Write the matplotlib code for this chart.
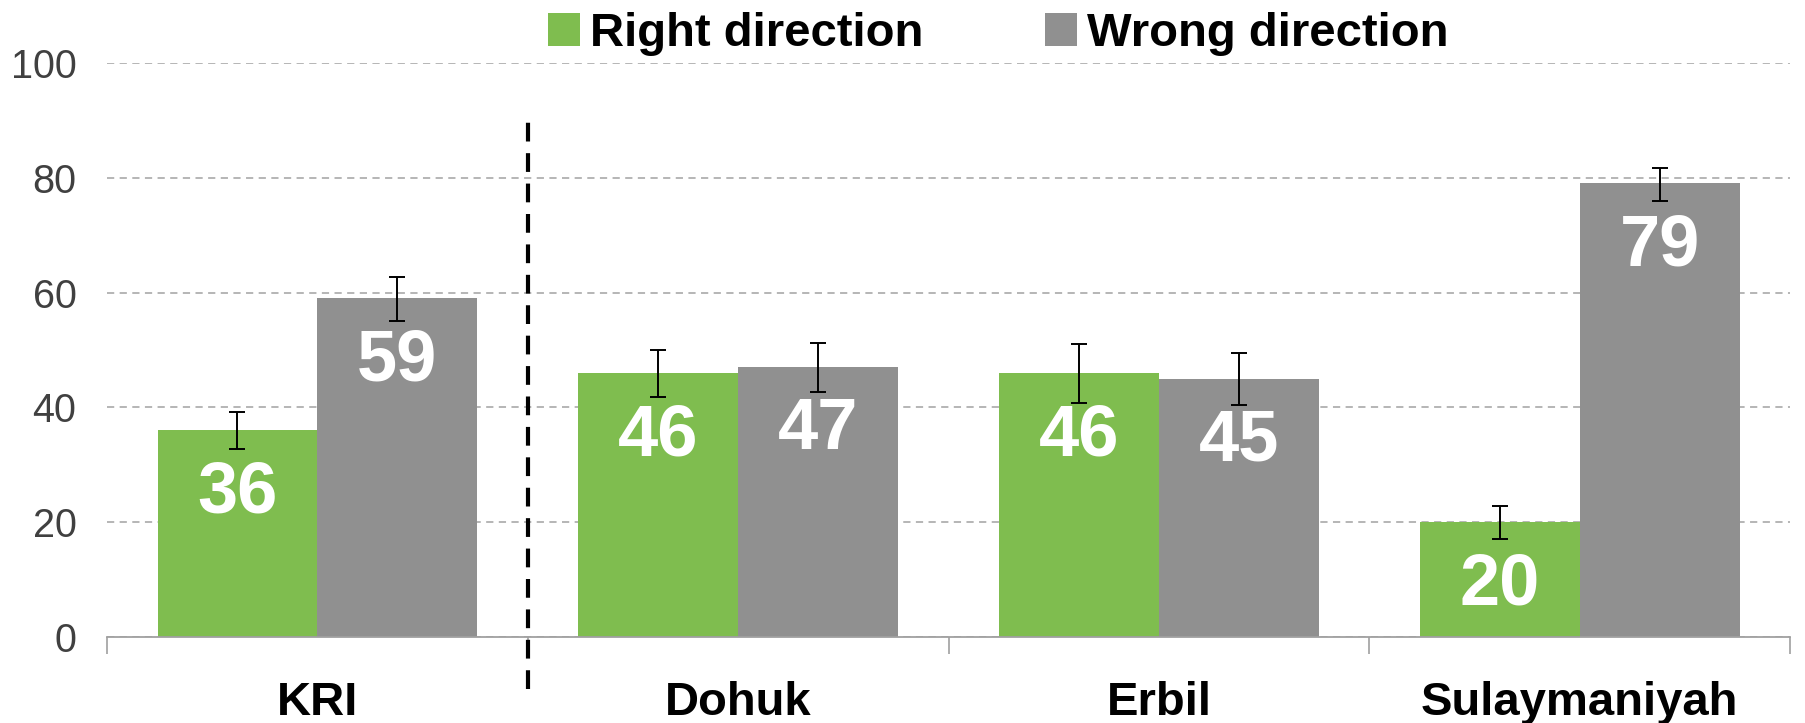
import matplotlib.pyplot as plt
import numpy as np

# ===================
# DATA
# ===================
categories = ["KRI", "Dohuk", "Erbil", "Sulaymaniyah"]
right_vals = [36, 46, 46, 20]
wrong_vals = [59, 47, 45, 79]
# error bar bounds (low, high)
right_low = [32.7, 41.8, 40.8, 17.1]
right_high = [39.2, 50.0, 51.0, 22.9]
wrong_low = [55.0, 42.6, 40.4, 75.9]
wrong_high = [62.7, 51.2, 49.4, 81.7]
series_names = ["Right direction", "Wrong direction"]

GREEN = "#7FBD4F"
GREY = "#909090"
FONT = "Liberation Sans"

# ===================
# MAIN
# ===================
plt.rcParams['font.family'] = [FONT, 'DejaVu Sans']

fig = plt.figure(figsize=(18.05, 7.23), dpi=100)
ax = fig.add_axes([0.0593, 0.119, 0.9324, 0.794])

x = np.arange(len(categories))
w = 0.38

def err(vals, low, high):
    v = np.array(vals, dtype=float)
    return [v - np.array(low), np.array(high) - v]

b1 = ax.bar(x - w / 2, right_vals, w, color=GREEN, label=series_names[0], zorder=2)
b2 = ax.bar(x + w / 2, wrong_vals, w, color=GREY, label=series_names[1], zorder=2)
ax.errorbar(x - w / 2, right_vals, yerr=err(right_vals, right_low, right_high),
            fmt='none', ecolor='black', elinewidth=1.4, capsize=5.5, capthick=1.4, zorder=3)
ax.errorbar(x + w / 2, wrong_vals, yerr=err(wrong_vals, wrong_low, wrong_high),
            fmt='none', ecolor='black', elinewidth=1.4, capsize=5.5, capthick=1.4, zorder=3)

for bars, vals in ((b1, right_vals), (b2, wrong_vals)):
    for bar, v in zip(bars, vals):
        ax.text(bar.get_x() + bar.get_width() / 2, v - 11, f"{v}",
                ha='center', va='center', color='white', fontsize=52,
                weight='bold', zorder=4)

ax.set_xlim(-0.5, len(categories) - 0.5)
ax.set_ylim(0, 100)
ax.set_yticks(range(0, 101, 20))
ax.tick_params(axis='y', length=0, labelsize=28.5, labelcolor='#404040', pad=22)

ax.set_xticks(x)
ax.set_xticklabels(categories, fontsize=34, weight='bold')
ax.tick_params(axis='x', which='major', length=0, pad=32)
ax.set_xticks(np.arange(-0.5, len(categories)), minor=True)
ax.tick_params(axis='x', which='minor', length=12, width=1.2, color='#a0a0a0')

ax.yaxis.grid(True, color='#b0b0b0', linestyle=(0, (4, 3)), linewidth=1.3, zorder=0)
ax.set_axisbelow(True)
for s in ('top', 'right', 'left'):
    ax.spines[s].set_visible(False)
ax.spines['bottom'].set_color('#a0a0a0')
ax.spines['bottom'].set_linewidth(1.3)

# divider between KRI and governorates
ax.plot([0.5, 0.5], [-9, 90], color='black', linestyle=(0, (4.5, 2.8)),
        linewidth=3, clip_on=False, zorder=3)

fig.legend(handles=[b1, b2], loc='center', bbox_to_anchor=(0.553, 0.953),
           ncol=2, frameon=False, prop={'family': FONT, 'weight': 'bold', 'size': 34},
           handlelength=0.68, handleheight=0.68, handletextpad=0.22,
           columnspacing=2.56, borderaxespad=0)

fig.savefig("out.png", dpi=100)
